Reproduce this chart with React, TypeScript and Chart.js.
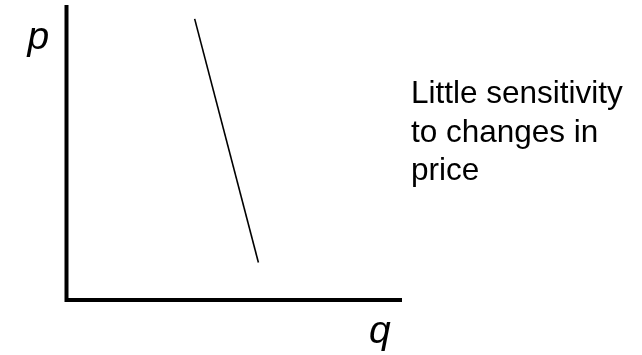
import React, { useEffect, useRef } from "react";
import { Chart, registerables } from "chart.js";

Chart.register(...registerables);

// Demand curve (steep line: little sensitivity to changes in price)
const demandQ = [3.82, 5.72];
const demandP = [9.53, 1.27];

const axisMax = { x: 10, y: 10 };
const yAxisLabel = "p";
const xAxisLabel = "q";
const noteLines = ["Little sensitivity", "to changes in", "price"];

const diagramPlugin = {
  id: "diagram",
  afterDatasetsDraw(chart: any) {
    const { ctx } = chart;
    const xs = chart.scales.x;
    const ys = chart.scales.y;
    const x0 = xs.getPixelForValue(0);
    const y0 = ys.getPixelForValue(0);
    const xMax = xs.getPixelForValue(axisMax.x);
    const yMax = ys.getPixelForValue(axisMax.y);
    ctx.save();
    ctx.strokeStyle = "#000";
    ctx.lineWidth = 4;
    ctx.lineCap = "butt";
    ctx.beginPath();
    ctx.moveTo(x0, yMax);
    ctx.lineTo(x0, y0 + 2);
    ctx.moveTo(x0 - 2, y0);
    ctx.lineTo(xMax, y0);
    ctx.stroke();

    ctx.fillStyle = "#000";
    ctx.textAlign = "left";
    ctx.textBaseline = "alphabetic";
    ctx.font = "italic 39px 'Liberation Sans', Arial, sans-serif";
    ctx.fillText(yAxisLabel, x0 - 39, yMax + 44);
    ctx.fillText(xAxisLabel, xMax - 33, y0 + 43);

    ctx.font = "31.5px 'Liberation Sans', Arial, sans-serif";
    noteLines.forEach((t, i) => {
      ctx.fillText(t, xMax + 9, ys.top + 98 + i * 38.5);
    });
    ctx.restore();
  },
};

export default function App() {
  const ref = useRef<HTMLCanvasElement | null>(null);
  useEffect(() => {
    if (!ref.current) return;
    const chart = new Chart(ref.current, {
      type: "scatter",
      data: {
        datasets: [
          {
            data: demandQ.map((q, i) => ({ x: q, y: demandP[i] })),
            showLine: true,
            borderColor: "#000",
            borderWidth: 1.6,
            pointRadius: 0,
            fill: false,
          },
        ],
      },
      options: {
        animation: false,
        responsive: false,
        maintainAspectRatio: false,
        layout: { padding: { left: 66.5, right: 240, top: 5, bottom: 55 } },
        plugins: {
          legend: { display: false },
          tooltip: { enabled: false },
        },
        scales: {
          x: { type: "linear", min: 0, max: axisMax.x, display: false },
          y: { type: "linear", min: 0, max: axisMax.y, display: false },
        },
      },
      plugins: [diagramPlugin],
    });
    return () => chart.destroy();
  }, []);
  return (
    <div style={{ position: "fixed", left: 0, top: 0, width: 642, height: 355, background: "#fff" }}>
      <canvas ref={ref} width={642} height={355} style={{ display: "block" }} />
    </div>
  );
}
